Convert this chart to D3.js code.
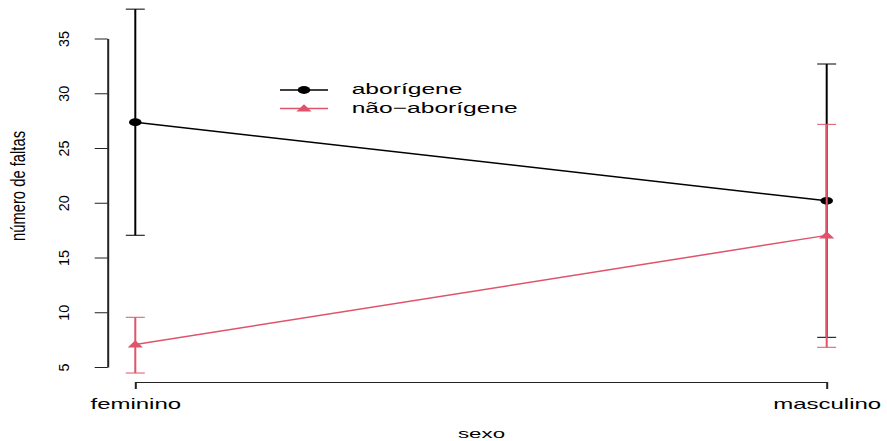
<!DOCTYPE html>
<html>
<head>
<meta charset="utf-8">
<script src="https://cdn.jsdelivr.net/npm/d3@7"></script>
<style>
  html, body { margin: 0; padding: 0; background: #ffffff; }
  svg { display: block; }
  text { font-family: "Liberation Sans", Arial, Helvetica, sans-serif; fill: #000; }
</style>
</head>
<body>
<svg id="chart" width="887" height="441"></svg>
<script>
// ---- data ----
const categories = ["feminino", "masculino"];
const seriesNames = ["aborígene", "não−aborígene"];
const aborigeneMean  = [27.35, 20.18];
const aborigeneLower = [17.03, 7.71];
const aborigeneUpper = [37.68, 32.67];
const naoMean  = [7.05, 17.02];
const naoLower = [4.45, 6.80];
const naoUpper = [9.54, 27.16];
const yTicks = [5, 10, 15, 20, 25, 30, 35];
const xTitle = "sexo";
const yTitle = "número de faltas";

const colors = ["#000000", "#DF536B"];
const series = [
  { name: seriesNames[0], mean: aborigeneMean, lo: aborigeneLower, hi: aborigeneUpper, color: colors[0], shape: "circle" },
  { name: seriesNames[1], mean: naoMean, lo: naoLower, hi: naoUpper, color: colors[1], shape: "triangle" }
];

const svg = d3.select("#chart");
const FONT = "\"Liberation Sans\", Arial, Helvetica, sans-serif";

const x = d3.scalePoint().domain(categories).range([135.3, 826.7]).padding(0);
const y = d3.scaleLinear().domain([5, 35]).range([367, 38.5]);

// ---- y axis ----
const yAxisG = svg.append("g")
  .attr("transform", "translate(107.7,0)")
  .call(d3.axisLeft(y).tickValues(yTicks).tickSize(13).tickSizeOuter(0).tickFormat(d3.format("d")));
yAxisG.select(".domain").attr("stroke", "#222").attr("stroke-width", 2);
yAxisG.selectAll(".tick line").attr("stroke", "#222").attr("stroke-width", 1);
yAxisG.selectAll(".tick text")
  .attr("x", null).attr("dy", null)
  .attr("text-anchor", "middle")
  .attr("font-family", FONT)
  .attr("font-size", 14.4)
  .attr("transform", "translate(-38.4,0) rotate(-90)");

// ---- x axis ----
const xAxisG = svg.append("g")
  .attr("transform", "translate(0,382)")
  .call(d3.axisBottom(x).tickSize(7).tickSizeOuter(0));
xAxisG.select(".domain").attr("stroke", "#222").attr("stroke-width", 1);
xAxisG.selectAll(".tick line").attr("stroke", "#222").attr("stroke-width", 2);
xAxisG.selectAll(".tick text")
  .attr("y", 0).attr("dy", null)
  .attr("text-anchor", "middle")
  .attr("font-family", FONT)
  .attr("font-size", 15)
  .attr("transform", "translate(0,27.3) scale(1.6,1)");

// ---- axis titles ----
svg.append("text")
  .attr("text-anchor", "middle")
  .attr("font-size", 13.5)
  .attr("transform", "translate(481.5,437.5) scale(1.65,1)")
  .text(xTitle);

svg.append("text")
  .attr("text-anchor", "middle")
  .attr("font-size", 14.8)
  .attr("transform", "translate(25,186) scale(1.42,1) rotate(-90)")
  .text(yTitle);

// ---- marks ----
const capHalf = 9.5;
function drawMarker(g, shape, cx, cy, color) {
  if (shape === "circle") {
    g.append("ellipse").attr("cx", cx).attr("cy", cy).attr("rx", 6.3).attr("ry", 3.9).attr("fill", color);
  } else {
    g.append("path")
      .attr("d", `M${cx},${cy - 4.2} L${cx + 7.6},${cy + 3} L${cx - 7.6},${cy + 3} Z`)
      .attr("fill", color);
  }
}

series.forEach(s => {
  const g = svg.append("g");
  // error bars
  categories.forEach((c, i) => {
    const cx = x(c);
    g.append("line").attr("x1", cx).attr("x2", cx)
      .attr("y1", y(s.lo[i])).attr("y2", y(s.hi[i]))
      .attr("stroke", s.color).attr("stroke-width", 2);
    [s.lo[i], s.hi[i]].forEach(v => {
      g.append("line").attr("x1", cx - capHalf).attr("x2", cx + capHalf)
        .attr("y1", y(v)).attr("y2", y(v))
        .attr("stroke", s.color).attr("stroke-width", 1);
    });
  });
  // connecting line
  const line = d3.line().x((d, i) => x(categories[i])).y(d => y(d));
  g.append("path").attr("d", line(s.mean)).attr("fill", "none")
    .attr("stroke", s.color).attr("stroke-width", 1.5);
  categories.forEach((c, i) => drawMarker(g, s.shape, x(c), y(s.mean[i]), s.color));
});

// ---- legend ----
const legendY = [90, 108.5];
series.forEach((s, i) => {
  const g = svg.append("g");
  g.append("line").attr("x1", 280).attr("x2", 328)
    .attr("y1", legendY[i]).attr("y2", legendY[i])
    .attr("stroke", s.color).attr("stroke-width", 1.5);
  drawMarker(g, s.shape, 304, legendY[i], s.color);
  g.append("text")
    .attr("font-size", 15)
    .attr("dominant-baseline", "central")
    .attr("transform", `translate(351.7,${legendY[i] - 1}) scale(1.64,1)`)
    .text(s.name);
});
</script>
</body>
</html>
